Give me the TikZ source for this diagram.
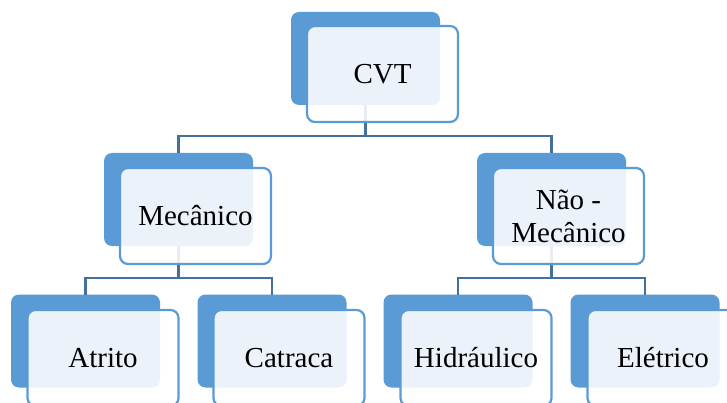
\documentclass[tikz,border=0pt]{standalone}
\usepackage{fontspec}
\setmainfont{Liberation Serif}
\definecolor{accent}{HTML}{5B9BD5}
\definecolor{linec}{HTML}{41719C}
\begin{document}
\begin{tikzpicture}[x=1pt,y=-1pt,
  back/.style={fill=accent, draw=none, rounded corners=8pt, minimum width=149pt, minimum height=93pt, inner sep=0pt, outer sep=0pt},
  front/.style={fill=white, fill opacity=0.88, text opacity=1, draw=accent, line width=2.2pt, rounded corners=8pt, minimum width=151pt, minimum height=96pt, inner sep=0pt, outer sep=0pt, align=center, font=\fontsize{29}{33}\selectfont},
  conn/.style={draw=linec, line width=2.2pt}]
\useasboundingbox (0,0) rectangle (727,403);
\clip (0,0) rectangle (727,403);
% back boxes
\node[back] (cvtb) at (365.5,58.5) {};
\node[back] (mecb) at (178.5,199.5) {};
\node[back] (naob) at (551.5,199.5) {};
\node[back] (atrb) at (85.5,341) {};
\node[back] (catb) at (272,341) {};
\node[back] (hidb) at (458,341) {};
\node[back] (eleb) at (645,341) {};
% junctions
\coordinate (j1) at (365.5,136);
\coordinate (j2) at (178.5,278);
\coordinate (j3) at (551.5,278);
% connectors
\draw[conn] (cvtb.south) -- (j1);
\draw[conn] (j1) -| (mecb.north);
\draw[conn] (j1) -| (naob.north);
\draw[conn] (mecb.south) -- (j2);
\draw[conn] (j2) -| (atrb.north);
\draw[conn] (j2) -| (catb.north);
\draw[conn] (naob.south) -- (j3);
\draw[conn] (j3) -| (hidb.north);
\draw[conn] (j3) -| (eleb.north);
% front boxes
\node[front] (cvt) at (382.5,74) {CVT};
\node[front] (mec) at (195.5,216) {Mecânico};
\node[front] (nao) at (568.5,216) {Não -\\Mecânico};
\node[front] (atr) at (103,358) {Atrito};
\node[front] (cat) at (289,358) {Catraca};
\node[front] (hid) at (476,358) {Hidráulico};
\node[front] (ele) at (663,358) {Elétrico};
\end{tikzpicture}
\end{document}
